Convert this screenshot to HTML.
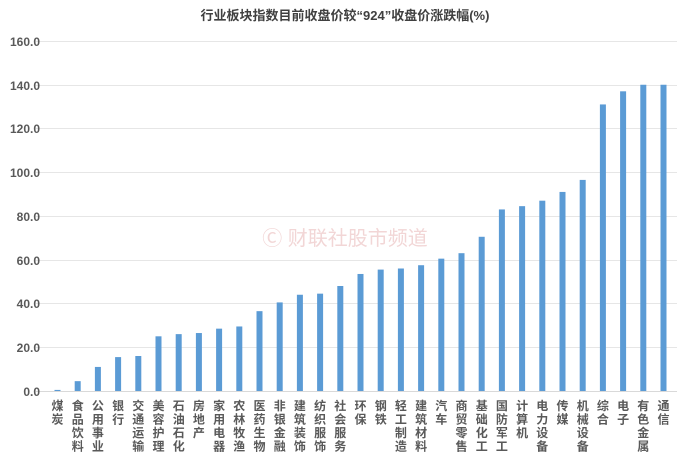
<!DOCTYPE html>
<html><head><meta charset="utf-8"><style>
body{margin:0;background:#fff;}
svg{display:block;font-family:"Liberation Sans","Noto Sans CJK SC",sans-serif;}
</style></head><body>
<svg width="691" height="453" viewBox="0 0 691 453" xmlns="http://www.w3.org/2000/svg">
<text x="345" y="20" text-anchor="middle" font-size="13" font-weight="bold" fill="#404040">行业板块指数目前收盘价较“924”收盘价涨跌幅(%)</text>
<g stroke="#e6e6e6" stroke-width="1">
<line x1="36" x2="677" y1="41.5" y2="41.5"/><line x1="36" x2="677" y1="85.5" y2="85.5"/>
<line x1="36" x2="677" y1="128.5" y2="128.5"/><line x1="36" x2="677" y1="172.5" y2="172.5"/>
<line x1="36" x2="677" y1="216.5" y2="216.5"/><line x1="36" x2="677" y1="260.5" y2="260.5"/>
<line x1="36" x2="677" y1="303.5" y2="303.5"/><line x1="36" x2="677" y1="347.5" y2="347.5"/>
</g>
<line x1="36" x2="677" y1="391.5" y2="391.5" stroke="#d9d9d9"/>
<g font-size="12" font-weight="bold" fill="#595959" text-anchor="end">
<text x="40" y="46">160.0</text><text x="40" y="90">140.0</text><text x="40" y="133">120.0</text>
<text x="40" y="177">100.0</text><text x="40" y="221">80.0</text><text x="40" y="265">60.0</text>
<text x="40" y="308">40.0</text><text x="40" y="352">20.0</text><text x="40" y="396">0.0</text>
</g>
<text x="345" y="245" text-anchor="middle" font-size="20" fill="#f2d6d6">Ⓒ 财联社股市频道</text>
<g id="bars" fill="#5b9bd5"></g>
<g id="labels" font-size="12" font-weight="bold" fill="#595959" text-anchor="middle"></g>
</svg>
<script>
var d=[["煤炭",0.5],["食品饮料",4.5],["公用事业",11],["银行",15.5],["交通运输",16],["美容护理",25],["石油石化",26],["房地产",26.5],["家用电器",28.5],["农林牧渔",29.5],["医药生物",36.5],["非银金融",40.5],["建筑装饰",44],["纺织服饰",44.5],["社会服务",48],["环保",53.5],["钢铁",55.5],["轻工制造",56],["建筑材料",57.5],["汽车",60.5],["商贸零售",63],["基础化工",70.5],["国防军工",83],["计算机",84.5],["电力设备",87],["传媒",91],["机械设备",96.5],["综合",131],["电子",137],["有色金属",140],["通信",140]];
var ns="http://www.w3.org/2000/svg",b=document.getElementById("bars"),l=document.getElementById("labels");
d.forEach(function(e,i){var cx=57.5+i*20.2,h=e[1]*2.1875;
var r=document.createElementNS(ns,"rect");r.setAttribute("x",cx-3);r.setAttribute("width",6);r.setAttribute("y",391-h);r.setAttribute("height",h);b.appendChild(r);
for(var k=0;k<e[0].length;k++){var t=document.createElementNS(ns,"text");t.setAttribute("x",cx);t.setAttribute("y",410+k*13.5);t.textContent=e[0][k];l.appendChild(t);}
});
</script>
</body></html>
